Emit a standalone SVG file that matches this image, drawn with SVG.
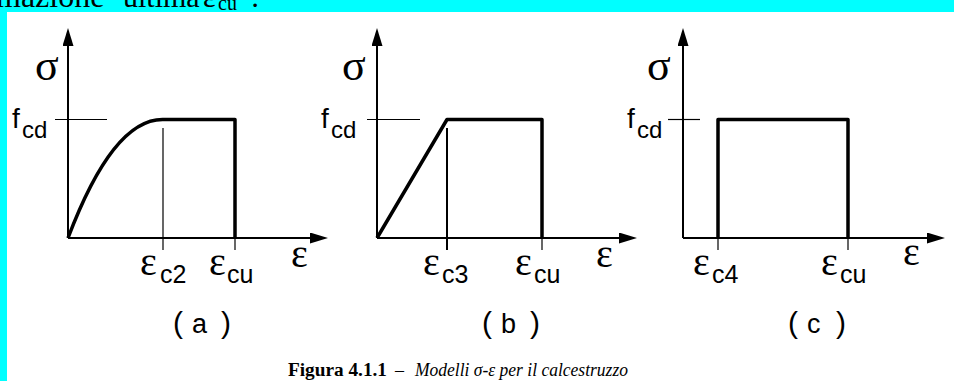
<svg xmlns="http://www.w3.org/2000/svg" width="954" height="381" viewBox="0 0 954 381">
<style>
.ax{stroke:#000;stroke-width:2;fill:none}
.thick{stroke:#000;stroke-width:3.5;fill:none;stroke-linejoin:round}
.thin{stroke:#000;stroke-width:1.2;fill:none}
.gr{font-family:"Liberation Serif","DejaVu Serif",serif;fill:#000}
.sa{font-family:"Liberation Sans",Arial,sans-serif;fill:#000}
.sig{font-family:"Liberation Serif","DejaVu Serif",serif;font-size:44px;fill:#000}
.eps{font-family:"Liberation Serif","DejaVu Serif",serif;font-size:40px;fill:#000}
.sub{font-family:"Liberation Sans",Arial,sans-serif;font-size:25px;fill:#000}
.par{font-family:"Liberation Sans",Arial,sans-serif;font-size:30px;fill:#000}
.lab{font-family:"Liberation Sans",Arial,sans-serif;font-size:27px;fill:#000}
</style>
<defs>
<marker id="ah" markerUnits="userSpaceOnUse" markerWidth="20" markerHeight="12" refX="12" refY="5.5" orient="auto">
<path d="M0,0 L18,5.5 L0,11 z" fill="#000"/>
</marker>
</defs>
<rect x="0" y="0" width="954" height="381" fill="#00FFFF"/>
<rect x="7" y="12" width="947" height="369" fill="#FFFFFF"/>
<g id="toptext" class="gr">
<text x="-4" y="7" font-size="32">mazione</text>
<text x="123" y="7" font-size="30">ultima</text>
<text x="203" y="7" font-size="30">ε</text>
<text x="218" y="10" font-size="20">cu</text>
<text x="251" y="7" font-size="30">:</text>
</g>
<g id="panel-a">
<line class="ax" x1="68" y1="238" x2="68" y2="34" marker-end="url(#ah)"/>
<line class="ax" x1="68" y1="238" x2="322" y2="238" marker-end="url(#ah)"/>
<line class="thin" x1="55" y1="119.5" x2="107" y2="119.5"/>
<line class="thin" x1="163" y1="128" x2="163" y2="250"/>
<line class="thin" x1="235" y1="238" x2="235" y2="250"/>
<path class="thick" d="M68,238 Q113,119 163,119.5 L235,119.5 L235,238"/>
<text class="sig" x="35" y="80">σ</text>
<text class="sa" x="12" y="128" font-size="28">f</text>
<text class="sa" x="22" y="138" font-size="24">cd</text>
<text class="eps" x="140" y="275">ε</text>
<text class="sub" x="160" y="283">c2</text>
<text class="eps" x="209" y="275">ε</text>
<text class="sub" x="227" y="283">cu</text>
<text class="eps" x="291" y="267">ε</text>
<text class="par" x="173" y="333">(</text>
<text class="lab" x="192" y="333">a</text>
<text class="par" x="221" y="333">)</text>
</g>
<g id="panel-b">
<line class="ax" x1="377" y1="238" x2="377" y2="34" marker-end="url(#ah)"/>
<line class="ax" x1="377" y1="238" x2="631" y2="238" marker-end="url(#ah)"/>
<line class="thin" x1="367" y1="119.5" x2="420" y2="119.5"/>
<line class="ax" x1="447" y1="128" x2="447" y2="250"/>
<line class="thin" x1="542" y1="238" x2="542" y2="250"/>
<path class="thick" d="M377,238 L447,119.5 L542,119.5 L542,238"/>
<text class="sig" x="342" y="80">σ</text>
<text class="sa" x="321" y="128" font-size="28">f</text>
<text class="sa" x="331" y="138" font-size="24">cd</text>
<text class="eps" x="423" y="275">ε</text>
<text class="sub" x="442" y="283">c3</text>
<text class="eps" x="515" y="275">ε</text>
<text class="sub" x="534" y="283">cu</text>
<text class="eps" x="596" y="267">ε</text>
<text class="par" x="482" y="333">(</text>
<text class="lab" x="501" y="333">b</text>
<text class="par" x="530" y="333">)</text>
</g>
<g id="panel-c">
<line class="ax" x1="683" y1="238" x2="683" y2="34" marker-end="url(#ah)"/>
<line class="ax" x1="683" y1="238" x2="939" y2="238" marker-end="url(#ah)"/>
<line class="thin" x1="668" y1="119.5" x2="700" y2="119.5"/>
<line class="thin" x1="718" y1="238" x2="718" y2="250"/>
<line class="thin" x1="848" y1="238" x2="848" y2="250"/>
<path class="thick" d="M718,238 L718,119.5 L848,119.5 L848,238" stroke-width="4"/>
<text class="sig" x="647" y="80">σ</text>
<text class="sa" x="627" y="128" font-size="28">f</text>
<text class="sa" x="637" y="138" font-size="24">cd</text>
<text class="eps" x="693" y="275">ε</text>
<text class="sub" x="712" y="283">c4</text>
<text class="eps" x="821" y="275">ε</text>
<text class="sub" x="840" y="283">cu</text>
<text class="eps" x="903" y="265">ε</text>
<text class="par" x="788" y="333">(</text>
<text class="lab" x="807" y="333">c</text>
<text class="par" x="836" y="333">)</text>
</g>
<g id="caption" class="gr">
<text x="288" y="376" font-size="18" font-weight="bold" textLength="99" lengthAdjust="spacingAndGlyphs">Figura 4.1.1</text>
<text x="395" y="376" font-size="18">–</text>
<text x="415" y="376" font-size="18" font-style="italic" textLength="213" lengthAdjust="spacingAndGlyphs">Modelli σ-ε per il calcestruzzo</text>
</g>
</svg>
